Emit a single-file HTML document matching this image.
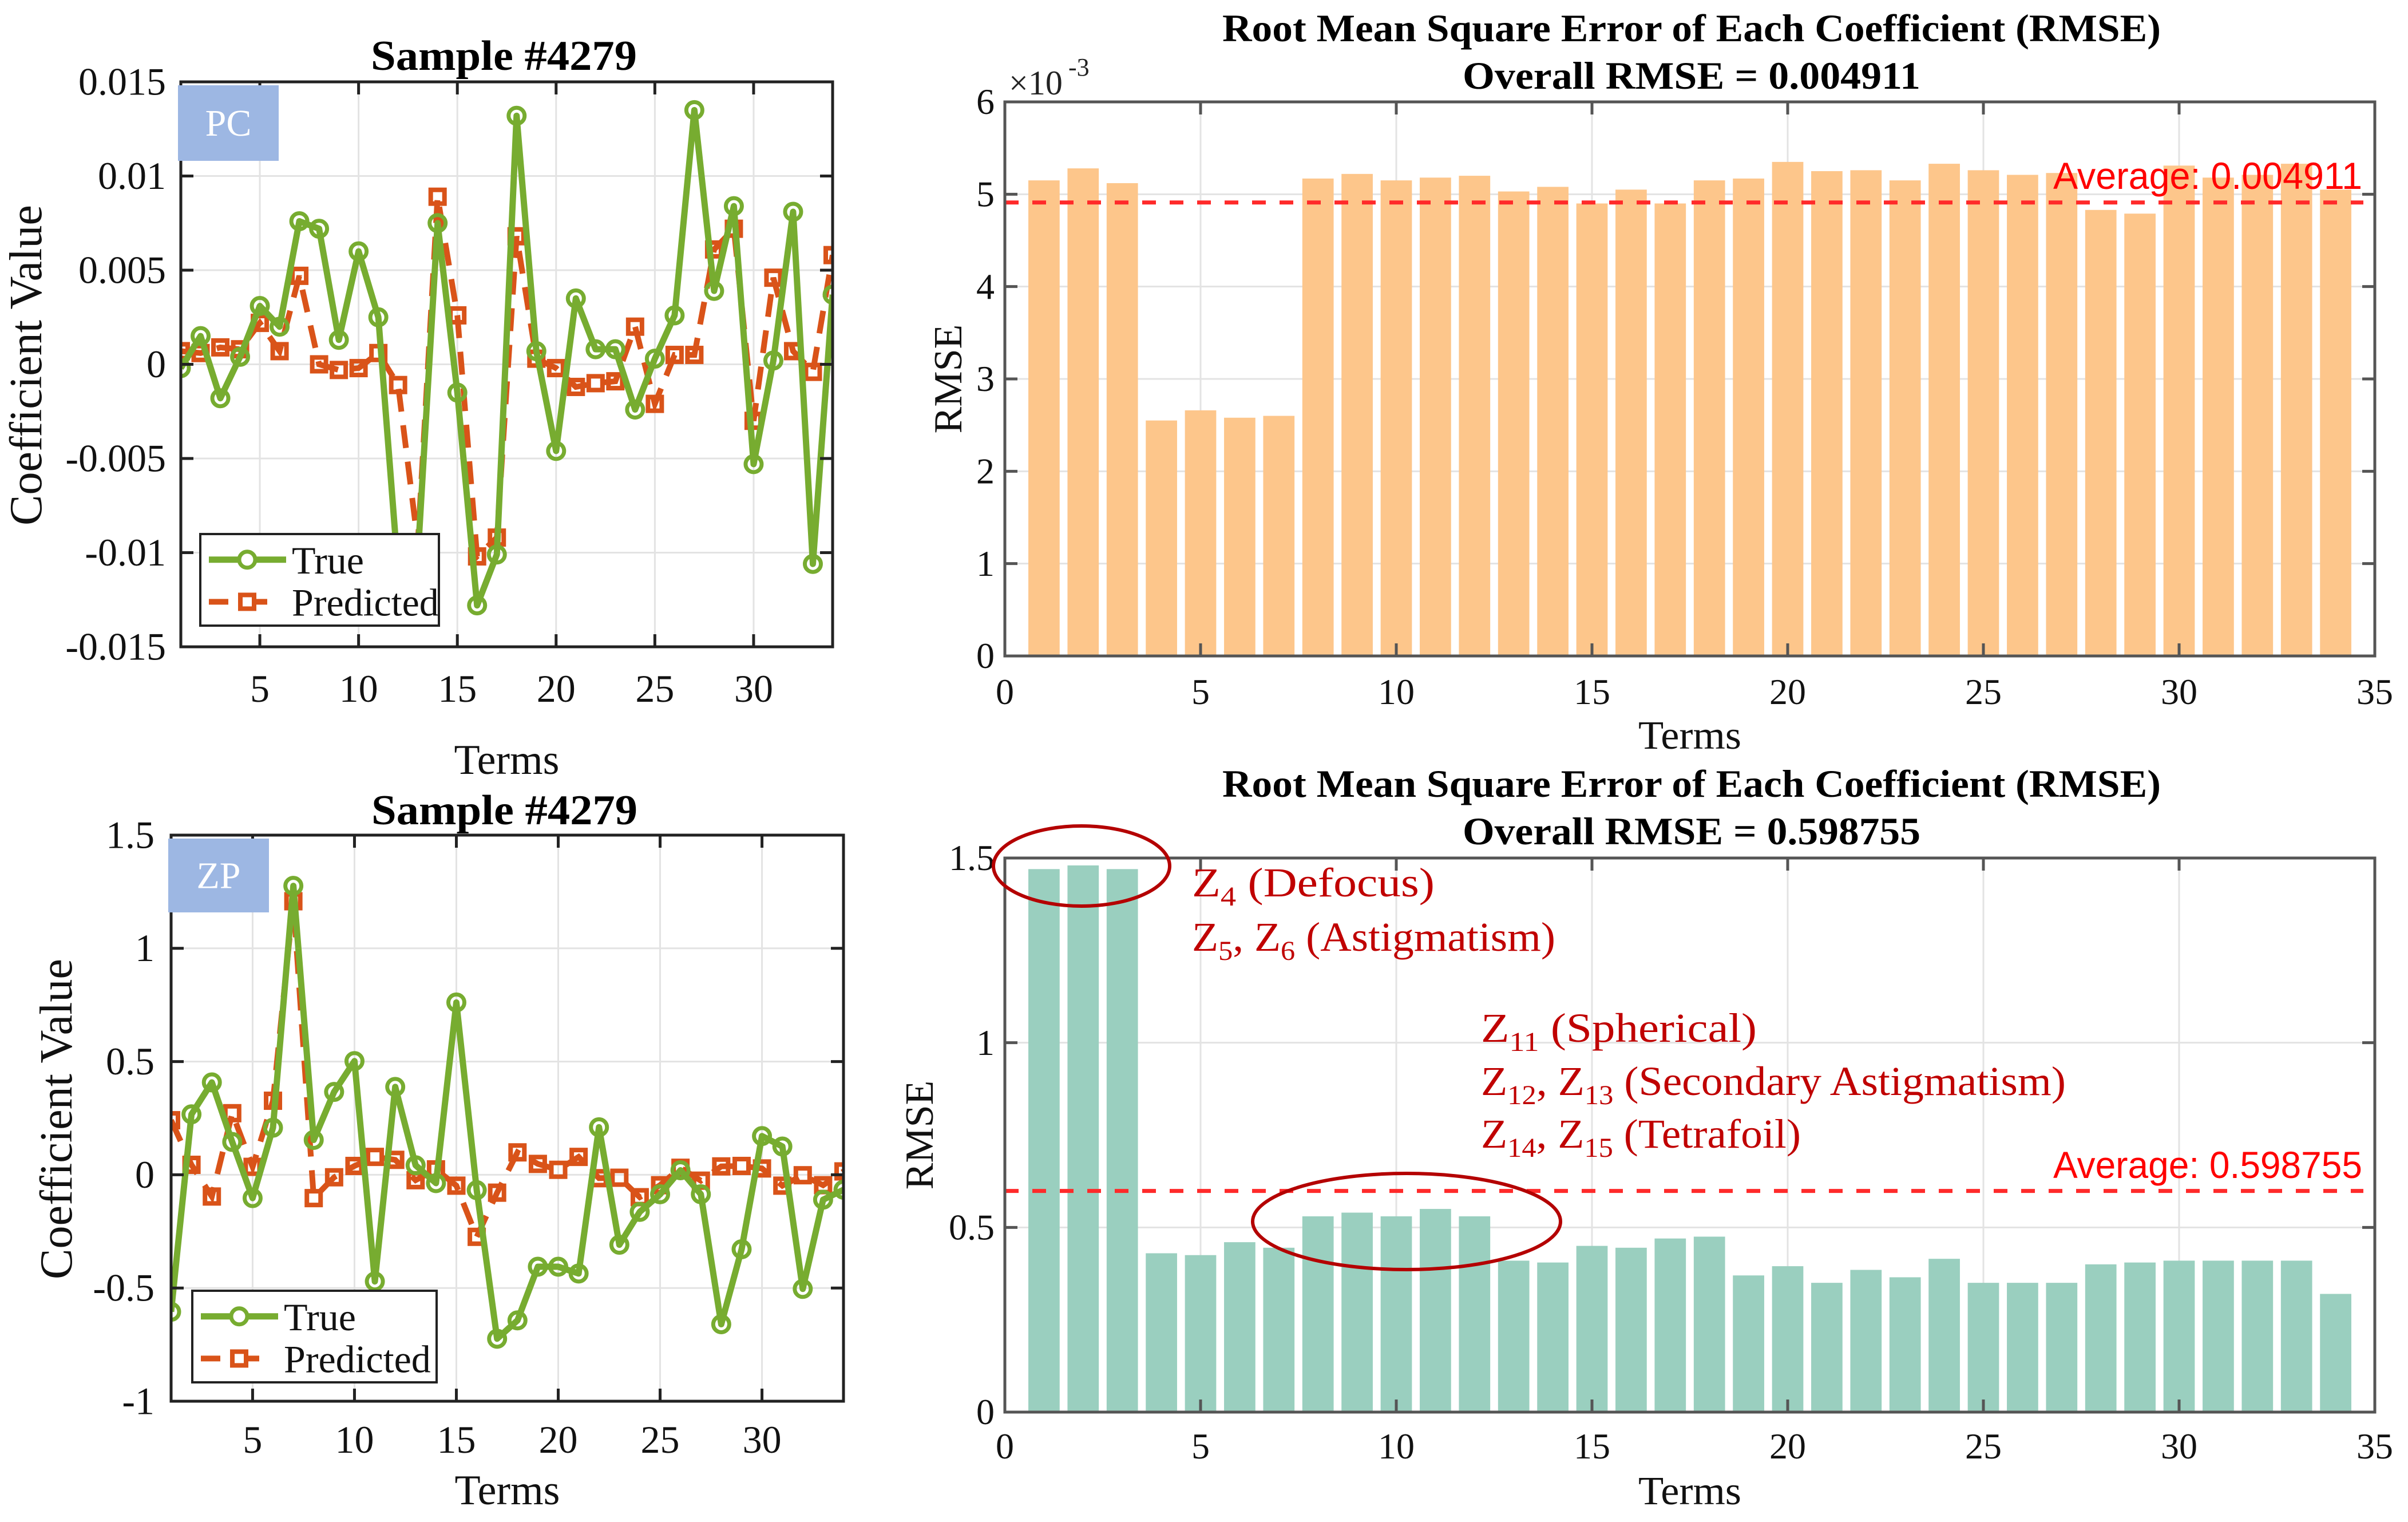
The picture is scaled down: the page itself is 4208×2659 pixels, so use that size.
<!DOCTYPE html>
<html><head><meta charset="utf-8">
<style>
html,body{margin:0;padding:0;background:#fff;}
svg{display:block;font-family:"Liberation Serif",serif;}
</style></head>
<body>
<svg id="fig" width="4208" height="2659" viewBox="0 0 4208 2659" xmlns="http://www.w3.org/2000/svg"></svg>
<script>
// ---------- DATA ----------
const terms = Array.from({length:34},(_,i)=>i+1);
const pcTrue = [-0.0002,0.0015,-0.0018,0.0004,0.0031,0.0020,0.0076,0.0072,0.0013,0.0060,0.0025,-0.0110,-0.0102,0.0075,-0.0015,-0.0128,-0.0101,0.0132,0.0007,-0.0046,0.0035,0.0008,0.0008,-0.0024,0.0003,0.0026,0.0135,0.0039,0.0084,-0.0053,0.0002,0.0081,-0.0106,0.0037];
const pcPred = [0.0007,0.0006,0.0009,0.0008,0.0022,0.0007,0.0047,0.0000,-0.0003,-0.0002,0.0006,-0.0011,-0.0095,0.0089,0.0026,-0.0102,-0.0092,0.0068,0.0003,-0.0002,-0.0012,-0.0010,-0.0009,0.0020,-0.0021,0.0005,0.0005,0.0061,0.0072,-0.0030,0.0046,0.0007,-0.0004,0.0058];
const zpTrue = [-0.605,0.267,0.408,0.145,-0.103,0.208,1.276,0.154,0.366,0.502,-0.471,0.388,0.042,-0.037,0.761,-0.068,-0.724,-0.643,-0.406,-0.406,-0.436,0.210,-0.309,-0.164,-0.086,0.020,-0.086,-0.660,-0.329,0.171,0.125,-0.504,-0.110,-0.066];
const zpPred = [0.241,0.044,-0.096,0.272,0.035,0.327,1.208,-0.103,-0.011,0.039,0.079,0.066,-0.024,0.024,-0.048,-0.274,-0.079,0.099,0.048,0.022,0.079,-0.015,-0.013,-0.099,-0.046,0.031,-0.026,0.037,0.039,0.028,-0.048,-0.002,-0.046,0.015];
const pcRmse = [5.15,5.28,5.12,2.55,2.66,2.58,2.60,5.17,5.22,5.15,5.18,5.20,5.03,5.08,4.90,5.05,4.90,5.15,5.17,5.35,5.25,5.26,5.15,5.33,5.26,5.21,5.23,4.83,4.79,5.31,5.18,5.21,5.33,5.05];
const pcAvg = 4.911;
const zpRmse = [1.47,1.48,1.47,0.43,0.425,0.46,0.445,0.53,0.54,0.53,0.55,0.53,0.41,0.405,0.45,0.445,0.47,0.475,0.37,0.395,0.35,0.385,0.365,0.415,0.35,0.35,0.35,0.40,0.405,0.41,0.41,0.41,0.41,0.32];
const zpAvg = 0.598755;
const pcYTicks = [-0.015,-0.01,-0.005,0,0.005,0.01,0.015];
const pcYLabels = ["-0.015","-0.01","-0.005","0","0.005","0.01","0.015"];
const zpYTicks = [-1,-0.5,0,0.5,1,1.5];
const zpYLabels = ["-1","-0.5","0","0.5","1","1.5"];
const lineXTicks = [5,10,15,20,25,30];
const barXTicks = [0,5,10,15,20,25,30,35];
const pcBarYTicks = [0,1,2,3,4,5,6];
const zpBarYTicks = [0,0.5,1,1.5];
const zpBarYLabels = ["0","0.5","1","1.5"];

// ---------- HELPERS ----------
const NS="http://www.w3.org/2000/svg";
const svg=document.getElementById('fig');
function mk(tag,attrs,parent){const e=document.createElementNS(NS,tag);for(const k in attrs)e.setAttribute(k,attrs[k]);(parent||svg).appendChild(e);return e;}
function txt(s,attrs,parent){const e=mk('text',attrs,parent);e.textContent=s;return e;}
function scale(d0,d1,r0,r1){return v=>r0+(v-d0)/(d1-d0)*(r1-r0);}

function axesFrame(g,L,R,T,B,xs,ys,xt,xl,yt,yl,fs,xlabY,ylabX,tickLen){
  // grid
  xt.forEach(v=>{const l=mk('line',{x1:xs(v),x2:xs(v),y1:T,y2:B,stroke:'#e3e3e3','stroke-width':3},g);
    });
  yt.forEach(v=>{const l=mk('line',{x1:L,x2:R,y1:ys(v),y2:ys(v),stroke:'#e3e3e3','stroke-width':3},g);
    });
}
function axesBorder(g,L,R,T,B,xs,ys,xt,xl,yt,yl,fs,xlabY,ylabX,col){
  const r=mk('rect',{x:L,y:T,width:R-L,height:B-T,fill:'none',stroke:col,'stroke-width':5},g);
  
  xt.forEach((v,i)=>{
    mk('line',{x1:xs(v),x2:xs(v),y1:B,y2:B-22,stroke:col,'stroke-width':5},g);
    mk('line',{x1:xs(v),x2:xs(v),y1:T,y2:T+22,stroke:col,'stroke-width':5},g);
    const t=txt(xl[i],{x:xs(v),y:xlabY,'font-size':fs,'text-anchor':'middle',fill:'#111'},g);
    
  });
  yt.forEach((v,i)=>{
    mk('line',{x1:L,x2:L+22,y1:ys(v),y2:ys(v),stroke:col,'stroke-width':5},g);
    mk('line',{x1:R,x2:R-22,y1:ys(v),y2:ys(v),stroke:col,'stroke-width':5},g);
    const t=txt(yl[i],{x:ylabX,y:ys(v)+fs*0.33,'font-size':fs,'text-anchor':'end',fill:'#111'},g);
    
  });
}

// ---------- LINE CHART ----------
function lineChart(cfg){
  const g=mk('g',{});
  
  const {L,R,T,B}=cfg;
  const xs=scale(1,34,L,R), ys=scale(cfg.ymin,cfg.ymax,B,T);
  mk('rect',{x:L,y:T,width:R-L,height:B-T,fill:'#fff'},g);
  axesFrame(g,L,R,T,B,xs,ys,lineXTicks,null,cfg.yt,null);
  const clip=mk('clipPath',{id:cfg.name+'-clip'},g);
  mk('rect',{x:L,y:T,width:R-L,height:B-T},clip);
  const pg=mk('g',{'clip-path':'url(#'+cfg.name+'-clip)'},g);
  // predicted
  const pp=terms.map((t,i)=>xs(t)+','+ys(cfg.pred[i])).join(' ');
  const pl=mk('polyline',{points:pp,fill:'none',stroke:'#d95319','stroke-width':10,'stroke-dasharray':'40,24'},pg);
  
  cfg.pred.forEach((v,i)=>{const m=mk('rect',{x:xs(terms[i])-12,y:ys(v)-12,width:24,height:24,fill:'none',stroke:'#d95319','stroke-width':8},pg);
    });
  // true
  const tp=terms.map((t,i)=>xs(t)+','+ys(cfg.tru[i])).join(' ');
  const tl=mk('polyline',{points:tp,fill:'none',stroke:'#77ac30','stroke-width':11,'stroke-linejoin':'round'},pg);
  
  cfg.tru.forEach((v,i)=>{const m=mk('circle',{cx:xs(terms[i]),cy:ys(v),r:14,fill:'none',stroke:'#77ac30','stroke-width':7},pg);
    });
  axesBorder(g,L,R,T,B,xs,ys,lineXTicks,lineXTicks.map(String),cfg.yt,cfg.yl,68,cfg.xTickY,cfg.yTickX,'#222');
  // tag box
  const tb=mk('rect',{x:L-5,y:T+6,width:176,height:cfg.tagH,fill:'#9db7e3'},g);
  
  const tt=txt(cfg.tag,{x:L+83,y:T+6+cfg.tagH/2+22,'font-size':66,'text-anchor':'middle',fill:'#fff'},g);
  
  // legend
  const lg=mk('g',{},g);
  const [lx,ly,lw,lh]=cfg.leg;
  mk('rect',{x:lx,y:ly,width:lw,height:lh,fill:'#fff',stroke:'#222','stroke-width':4},lg);
  const y1=ly+lh*0.28,y2=ly+lh*0.74;
  mk('line',{x1:lx+15,x2:lx+150,y1:y1,y2:y1,stroke:'#77ac30','stroke-width':11},lg);
  mk('circle',{cx:lx+82,cy:y1,r:14,fill:'#fff',stroke:'#77ac30','stroke-width':7},lg);
  mk('line',{x1:lx+15,x2:lx+150,y1:y2,y2:y2,stroke:'#d95319','stroke-width':10,'stroke-dasharray':'34,34'},lg);
  mk('rect',{x:lx+70,y:y2-12,width:24,height:24,fill:'#fff',stroke:'#d95319','stroke-width':8},lg);
  const e1=txt('True',{x:lx+160,y:y1+24,'font-size':68,fill:'#111'},lg);
  
  const e2=txt('Predicted',{x:lx+160,y:y2+24,'font-size':68,fill:'#111'},lg);
  
  // labels
  const ti=txt('Sample #4279',{x:(L+R)/2-5,y:cfg.titleY,'font-size':74,'font-weight':'bold','text-anchor':'middle',fill:'#000',textLength:465,lengthAdjust:'spacingAndGlyphs'},g);
  
  const xl=txt('Terms',{x:(L+R)/2,y:cfg.xLabY,'font-size':74,'text-anchor':'middle',fill:'#111'},g);
  
  const yl=txt('Coefficient Value',{x:0,y:0,'font-size':80,'text-anchor':'middle',fill:'#111',transform:`translate(${cfg.yLabX},${cfg.yLabMid}) rotate(-90)`,textLength:560,lengthAdjust:'spacingAndGlyphs'},g);
  
}

// ---------- BAR CHART ----------
function barChart(cfg){
  const g=mk('g',{});
  
  const {L,R,T,B}=cfg;
  const xs=scale(0,35,L,R), ys=scale(0,cfg.ymax,B,T);
  axesFrame(g,L,R,T,B,xs,ys,barXTicks,null,cfg.yt,null);
  const bw=(xs(1)-xs(0))*0.8;
  cfg.vals.forEach((v,i)=>{const b=mk('rect',{x:xs(terms[i])-bw/2,y:ys(v),width:bw,height:B-ys(v),fill:cfg.color},g);
    });
  const al=mk('line',{x1:L,x2:R-20,y1:ys(cfg.avg),y2:ys(cfg.avg),stroke:'#ff2a2a','stroke-width':7,'stroke-dasharray':'24,24'},g);
  
  const at=txt(cfg.avgText,{x:4128,y:cfg.avgTextY,'font-size':66,'text-anchor':'end',fill:'#ff0000','font-family':'Liberation Sans, sans-serif',textLength:cfg.avgTextW,lengthAdjust:'spacingAndGlyphs'},g);
  
  axesBorder(g,L,R,T,B,xs,ys,barXTicks,barXTicks.map(String),cfg.yt,cfg.yl,64,cfg.xTickY,1738,'#555');
  const t1=txt('Root Mean Square Error of Each Coefficient (RMSE)',{x:2956,y:cfg.t1Y,'font-size':68,'font-weight':'bold','text-anchor':'middle',fill:'#000',textLength:1640,lengthAdjust:'spacingAndGlyphs'},g);
  
  const t2=txt(cfg.t2,{x:2956,y:cfg.t2Y,'font-size':68,'font-weight':'bold','text-anchor':'middle',fill:'#000',textLength:800,lengthAdjust:'spacingAndGlyphs'},g);
  
  const xl=txt('Terms',{x:(L+R)/2,y:cfg.xLabY,'font-size':70,'text-anchor':'middle',fill:'#111',textLength:180,lengthAdjust:'spacingAndGlyphs'},g);
  
  const yl=txt('RMSE',{x:0,y:0,'font-size':70,'text-anchor':'middle',fill:'#111',transform:`translate(${cfg.yLabX},${(T+B)/2}) rotate(-90)`},g);
  
  return {g,xs,ys};
}

lineChart({name:'pc-line-chart',L:316,R:1455,T:143,B:1130,ymin:-0.015,ymax:0.015,yt:pcYTicks,yl:pcYLabels,
  tru:pcTrue,pred:pcPred,tag:'PC',tagH:132,leg:[350,933,417,160],titleY:122,xLabY:1352,xTickY:1226,yTickX:290,yLabX:72,yLabMid:638});
lineChart({name:'zp-line-chart',L:299,R:1474,T:1459,B:2448,ymin:-1,ymax:1.5,yt:zpYTicks,yl:zpYLabels,
  tru:zpTrue,pred:zpPred,tag:'ZP',tagH:129,leg:[336,2255,427,160],titleY:1440,xLabY:2628,xTickY:2538,yTickX:270,yLabX:125,yLabMid:1955});

barChart({name:'pc-rmse-bar-chart',L:1756,R:4150,T:178,B:1146,ymax:6,yt:pcBarYTicks,yl:pcBarYTicks.map(String),vals:pcRmse,avg:pcAvg,
  color:'#fdc68b',avgText:'Average: 0.004911',avgTextY:330,avgTextW:540,xTickY:1230,t1Y:72,t2Y:155,t2:'Overall RMSE = 0.004911',xLabY:1308,yLabX:1680});
const exp=txt('×10',{x:1763,y:165,'font-size':60,fill:'#222'});

const exp2=txt('-3',{x:1867,y:132,'font-size':44,fill:'#222'});


const zb=barChart({name:'zp-rmse-bar-chart',L:1756,R:4150,T:1499,B:2467,ymax:1.5,yt:zpBarYTicks,yl:zpBarYLabels,vals:zpRmse,avg:zpAvg,
  color:'#9acfbf',avgText:'Average: 0.598755',avgTextY:2058,avgTextW:540,xTickY:2548,t1Y:1392,t2Y:1475,t2:'Overall RMSE = 0.598755',xLabY:2628,yLabX:1630});

// annotations
const e1=mk('ellipse',{cx:1890,cy:1513,rx:154,ry:70,fill:'none',stroke:'#b40000','stroke-width':6});

const e2=mk('ellipse',{cx:2458,cy:2134,rx:269,ry:84,fill:'none',stroke:'#b40000','stroke-width':6});

function ann(parts,x,y,w,name){
  const t=mk('text',{x:x,y:y,'font-size':72,fill:'#c00000',textLength:w,lengthAdjust:'spacingAndGlyphs'});
  
  
  parts.forEach(p=>{const s=mk('tspan',p[1]?{'font-size':48,dy:16}:{dy:p[2]||0},t);s.textContent=p[0];});
}
ann([['Z'],['4',1],['  (Defocus)',0,-16]],2083,1566,424,'annotation-defocus');
ann([['Z'],['5',1],[', Z',0,-16],['6',1],[' (Astigmatism)',0,-16]],2083,1661,635,'annotation-astigmatism');
ann([['Z'],['11',1],['  (Spherical)',0,-16]],2588,1820,482,'annotation-spherical');
ann([['Z'],['12',1],[', Z',0,-16],['13',1],[' (Secondary Astigmatism)',0,-16]],2588,1913,1022,'annotation-secondary-astigmatism');
ann([['Z'],['14',1],[', Z',0,-16],['15',1],[' (Tetrafoil)',0,-16]],2588,2005,559,'annotation-tetrafoil');
</script>
</body></html>
